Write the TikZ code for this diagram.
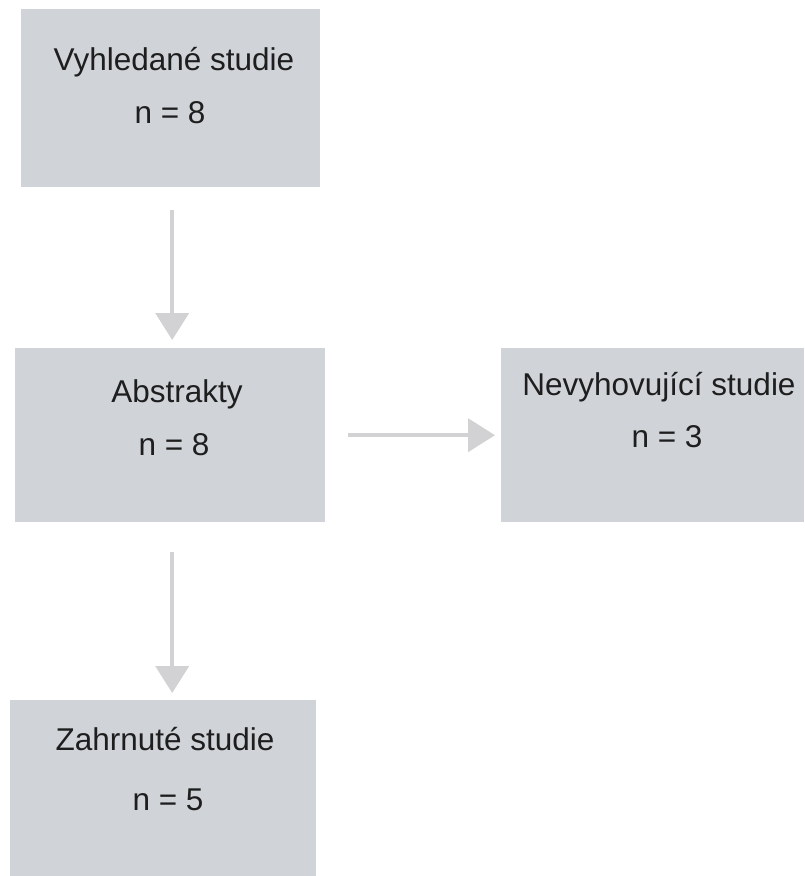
\documentclass[tikz,border=0pt]{standalone}
\usepackage{fontspec}
\setmainfont{Liberation Sans}
\usetikzlibrary{arrows.meta}
\definecolor{boxfill}{RGB}{208,211,216}
\definecolor{arrowgray}{RGB}{210,210,212}
\definecolor{txt}{RGB}{30,30,30}
\begin{document}
\begin{tikzpicture}[x=1pt,y=-1pt,
  box/.style={fill=boxfill,draw=none,inner sep=0pt,anchor=north west},
  lbl/.style={anchor=base,inner sep=0pt,text=txt,font=\fontsize{31.5}{36}\selectfont},
  conn/.style={draw=arrowgray,line width=4pt,-{Triangle[width=33pt,length=27pt]}}]
\useasboundingbox (0,0) rectangle (804,876);
% boxes
\node[box,minimum width=299pt,minimum height=178pt] (b1) at (21,9) {};
\node[box,minimum width=310pt,minimum height=174pt] (b2) at (15,348) {};
\node[box,minimum width=303pt,minimum height=174pt] (b3) at (501,348) {};
\node[box,minimum width=306pt,minimum height=176pt] (b4) at (10,700) {};
% labels
\node[lbl] (t1a) at (174,70) {Vyhledané studie};
\node[lbl] (t1b) at (170,123) {n = 8};
\node[lbl] (t2a) at (177,402) {Abstrakty};
\node[lbl] (t2b) at (174,455) {n = 8};
\node[lbl] (t3a) at (659,395) {Nevyhovující studie};
\node[lbl] (t3b) at (667,447) {n = 3};
\node[lbl] (t4a) at (165,750) {Zahrnuté studie};
\node[lbl] (t4b) at (168,810) {n = 5};
% connectors
\draw[conn,shorten <=23pt,shorten >=8pt] ([xshift=1.5pt]b1.south) -- ([xshift=2pt]b2.north);
\draw[conn,shorten <=23pt,shorten >=6pt] (b2.east) -- (b3.west);
\draw[conn,shorten <=30pt,shorten >=7pt] ([xshift=2pt]b2.south) -- ([xshift=2pt]b2.south |- b4.north);
\end{tikzpicture}
\end{document}
